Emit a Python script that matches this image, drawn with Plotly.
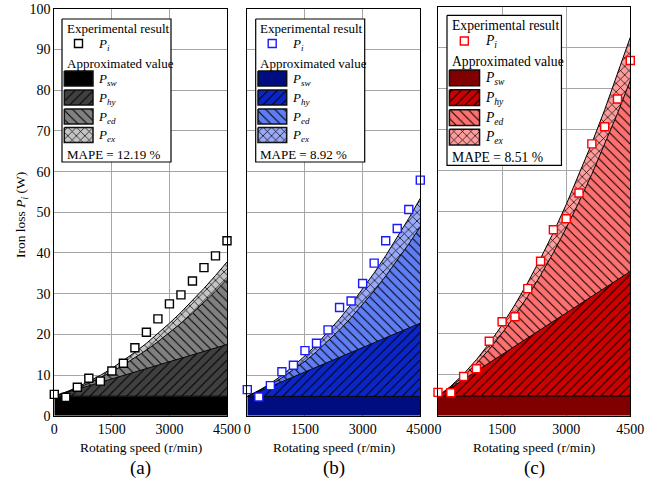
import plotly.graph_objects as go

W, H = 659, 484
FONT = "Liberation Serif, Times New Roman, Times, serif"

# ---------------- data ----------------
speed = [0, 300, 600, 900, 1200, 1500, 1800, 2100, 2400, 2700, 3000, 3300, 3600, 3900, 4200, 4500]
tick_vals = [0, 1500, 3000, 4500]
tick_text = ["0", "1500", "3000", "4500"]

# (a)
meas_a = [5.25, 4.5, 7.0, 9.2, 8.5, 11.0, 12.9, 16.7, 20.5, 23.8, 27.5, 29.7, 33.1, 36.4, 39.3, 43.0]
psw_a = [4.8, 4.8, 4.8, 4.8, 4.8, 4.8, 4.8, 4.8, 4.8, 4.8, 4.8, 4.8, 4.8, 4.8, 4.8, 4.8]
phy_a = [0, 0.85, 1.69, 2.54, 3.39, 4.23, 5.08, 5.93, 6.77, 7.62, 8.47, 9.31, 10.16, 11.01, 11.85, 12.7]
ped_a = [0, 0.07, 0.28, 0.64, 1.14, 1.78, 2.56, 3.48, 4.55, 5.76, 7.11, 8.60, 10.24, 12.02, 13.94, 16.0]
pex_a = [0, 0.07, 0.21, 0.38, 0.59, 0.83, 1.09, 1.37, 1.67, 2.00, 2.34, 2.70, 3.08, 3.47, 3.88, 4.3]
mape_a = "MAPE = 12.19 %"

# (b)
meas_b = [6.4, 4.6, 7.4, 10.8, 12.4, 16.0, 17.8, 21.1, 26.6, 28.2, 32.5, 37.5, 43.0, 46.0, 50.7, 57.9]
psw_b = [4.75, 4.75, 4.75, 4.75, 4.75, 4.75, 4.75, 4.75, 4.75, 4.75, 4.75, 4.75, 4.75, 4.75, 4.75, 4.75]
phy_b = [0, 1.2, 2.4, 3.6, 4.8, 6.0, 7.2, 8.4, 9.6, 10.8, 12.0, 13.2, 14.4, 15.6, 16.8, 18.0]
ped_b = [0, 0.11, 0.42, 0.95, 1.69, 2.63, 3.79, 5.16, 6.74, 8.53, 10.53, 12.75, 15.17, 17.80, 20.65, 23.7]
pex_b = [0, 0.12, 0.34, 0.63, 0.96, 1.35, 1.77, 2.23, 2.73, 3.25, 3.81, 4.40, 5.01, 5.65, 6.31, 7.0]
mape_b = "MAPE = 8.92 %"

# (c)
meas_c = [5.7, 5.6, 9.6, 11.5, 18.2, 23.0, 24.2, 31.1, 37.8, 45.5, 48.2, 54.5, 66.5, 70.7, 77.5, 86.9]
psw_c = [4.8, 4.8, 4.8, 4.8, 4.8, 4.8, 4.8, 4.8, 4.8, 4.8, 4.8, 4.8, 4.8, 4.8, 4.8, 4.8]
phy_c = [0, 2.03, 4.07, 6.1, 8.13, 10.17, 12.2, 14.23, 16.27, 18.3, 20.33, 22.37, 24.4, 26.43, 28.47, 30.5]
ped_c = [0, 0.21, 0.83, 1.87, 3.32, 5.19, 7.47, 10.17, 13.28, 16.81, 20.76, 25.11, 29.89, 35.08, 40.68, 46.7]
pex_c = [0, 0.18, 0.52, 0.95, 1.46, 2.04, 2.68, 3.38, 4.13, 4.93, 5.77, 6.66, 7.58, 8.55, 9.56, 10.6]
mape_c = "MAPE = 8.51 %"

comp_labels = ["sw", "hy", "ed", "ex"]

# ---------------- styles / layout ----------------
panels = [
    dict(tag="(a)", meas=meas_a, comps=[psw_a, phy_a, ped_a, pex_a], mape=mape_a,
         colors=["#000000", "#404040", "#808080", "#c4c4c4"], mcolor="#000000",
         px=(54.3, 227.0), py=(8.9, 415.7), leg=(62.0, 19.0, 1.0)),
    dict(tag="(b)", meas=meas_b, comps=[psw_b, phy_b, ped_b, pex_b], mape=mape_b,
         colors=["#000d80", "#0a26c8", "#5f7df5", "#9aaaf8"], mcolor="#1a1aff",
         px=(247.3, 420.3), py=(8.9, 415.7), leg=(255.7, 19.0, 1.0)),
    dict(tag="(c)", meas=meas_c, comps=[psw_c, phy_c, ped_c, pex_c], mape=mape_c,
         colors=["#800000", "#cc0000", "#ff7070", "#ff9c9c"], mcolor="#ff0000",
         px=(438.0, 630.3), py=(7.0, 415.7), leg=(447.0, 15.3, 1.05)),
]
shapes_pat = ["", "/", "\\", "x"]

fig = go.Figure()
annotations = []


def pattern(shape, color):
    if shape == "":
        return dict(shape="")
    if shape == "x":
        return dict(shape="x", fgcolor="black", bgcolor=color, size=6, solidity=0.22,
                    fillmode="replace")
    return dict(shape=shape, fgcolor="black", bgcolor=color, size=6.5, solidity=0.16,
                fillmode="replace")


for i, p in enumerate(panels):
    ax = "" if i == 0 else str(i + 1)
    xa, ya = "x" + ax, "y" + ax
    for k, comp in enumerate(p["comps"]):
        fig.add_trace(go.Scatter(
            x=speed, y=comp, xaxis=xa, yaxis=ya, mode="lines",
            stackgroup="s" + str(i), line=dict(color="black", width=1),
            fillcolor=p["colors"][k], fillpattern=pattern(shapes_pat[k], p["colors"][k]),
            showlegend=False, hoverinfo="skip"))
    fig.add_trace(go.Scatter(
        x=speed, y=p["meas"], xaxis=xa, yaxis=ya, mode="markers", cliponaxis=False,
        marker=dict(symbol="square", size=8, color="white",
                    line=dict(color=p["mcolor"], width=1.4)),
        showlegend=False))

    x0, x1 = p["px"]
    y0, y1 = p["py"]
    fig.layout["xaxis" + ax] = dict(
        domain=[x0 / W, x1 / W], range=[0, 4500], anchor=ya, automargin=False,
        tickvals=tick_vals, ticktext=tick_text, ticks="", showgrid=True,
        gridcolor="#a6a6a6", gridwidth=1, showline=True, mirror=True,
        linecolor="black", linewidth=1, zeroline=False,
        tickfont=dict(family=FONT, size=14, color="black"), fixedrange=True)
    fig.layout["yaxis" + ax] = dict(
        domain=[1 - y1 / H, 1 - y0 / H], range=[0, 100], anchor=xa, automargin=False,
        dtick=10, ticks="", showgrid=True, showticklabels=(i == 0),
        gridcolor="#a6a6a6", gridwidth=1, showline=True, mirror=True,
        linecolor="black", linewidth=1, zeroline=False,
        tickfont=dict(family=FONT, size=14, color="black"), fixedrange=True)

    cx = (x0 + x1) / 2
    annotations.append(dict(xref="x4", yref="y4", x=cx, y=447, text="Rotating speed (r/min)",
                            showarrow=False, xanchor="center", yanchor="middle",
                            font=dict(family=FONT, size=13.5, color="black")))
    annotations.append(dict(xref="x4", yref="y4", x=cx, y=468, text=p["tag"],
                            showarrow=False, xanchor="center", yanchor="middle",
                            font=dict(family=FONT, size=19, color="black")))

    # ----- legend box drawn on the pixel overlay axes -----
    lx, ly, s = p["leg"]

    def X(v):
        return lx + v * s

    def Y(v):
        return ly + v * s

    bw, bh = 109, 143
    fig.add_trace(go.Scatter(
        x=[X(0), X(bw), X(bw), X(0), X(0)], y=[Y(0), Y(0), Y(bh), Y(bh), Y(0)],
        xaxis="x4", yaxis="y4", mode="lines", fill="toself", fillcolor="white",
        line=dict(color="black", width=1.2), showlegend=False, hoverinfo="skip"))
    fs = 13 * s
    annotations.append(dict(xref="x4", yref="y4", x=X(2.5), y=Y(9.5), text="Experimental result",
                            showarrow=False, xanchor="left", yanchor="middle",
                            font=dict(family=FONT, size=fs, color="black")))
    fig.add_trace(go.Scatter(
        x=[X(16.5)], y=[Y(24.5)], xaxis="x4", yaxis="y4", mode="markers", cliponaxis=False,
        marker=dict(symbol="square", size=8, color="white",
                    line=dict(color=p["mcolor"], width=1.4)),
        showlegend=False, hoverinfo="skip"))
    annotations.append(dict(xref="x4", yref="y4", x=X(34), y=Y(25),
                            text="<i>P</i><sub><i>i</i></sub>",
                            showarrow=False, xanchor="left", yanchor="middle",
                            font=dict(family=FONT, size=fs, color="black")))
    annotations.append(dict(xref="x4", yref="y4", x=X(2.5), y=Y(44), text="Approximated value",
                            showarrow=False, xanchor="left", yanchor="middle",
                            font=dict(family=FONT, size=fs, color="black")))
    tops = [52, 71, 90, 108.5]
    for k in range(4):
        t = tops[k]
        fig.add_trace(go.Scatter(
            x=[X(2.3), X(31), X(31), X(2.3), X(2.3)], y=[Y(t), Y(t), Y(t + 15), Y(t + 15), Y(t)],
            xaxis="x4", yaxis="y4", mode="lines", fill="toself",
            fillcolor=p["colors"][k], fillpattern=pattern(shapes_pat[k], p["colors"][k]),
            line=dict(color="#111111", width=1.5), showlegend=False, hoverinfo="skip"))
        annotations.append(dict(xref="x4", yref="y4", x=X(34), y=Y(t + 8),
                                text="<i>P</i><sub><i>" + comp_labels[k] + "</i></sub>",
                                showarrow=False, xanchor="left", yanchor="middle",
                                font=dict(family=FONT, size=fs, color="black")))
    annotations.append(dict(xref="x4", yref="y4", x=X(2.5), y=Y(135), text=p["mape"],
                            showarrow=False, xanchor="left", yanchor="middle",
                            font=dict(family=FONT, size=fs, color="black")))

annotations.append(dict(xref="x4", yref="y4", x=21, y=215,
                        text="Iron loss <i>P</i><sub><i>i</i></sub> (W)", textangle=-90,
                        showarrow=False, xanchor="center", yanchor="middle",
                        font=dict(family=FONT, size=13.5, color="black")))

fig.update_layout(
    width=W, height=H, autosize=False,
    font=dict(family=FONT, color="black"),
    margin=dict(l=0, r=0, t=0, b=0, pad=0, autoexpand=False),
    paper_bgcolor="#ffffff", plot_bgcolor="rgba(0,0,0,0)",
    xaxis4=dict(domain=[0, 1], range=[0, W], visible=False, fixedrange=True, anchor="y4",
                automargin=False),
    yaxis4=dict(domain=[0, 1], range=[H, 0], visible=False, fixedrange=True, anchor="x4",
                automargin=False),
    annotations=annotations,
    showlegend=False,
)

fig.write_html("out.html", config={"displayModeBar": False},
               post_script="document.body.style.margin='0';document.body.style.overflow='hidden';")
